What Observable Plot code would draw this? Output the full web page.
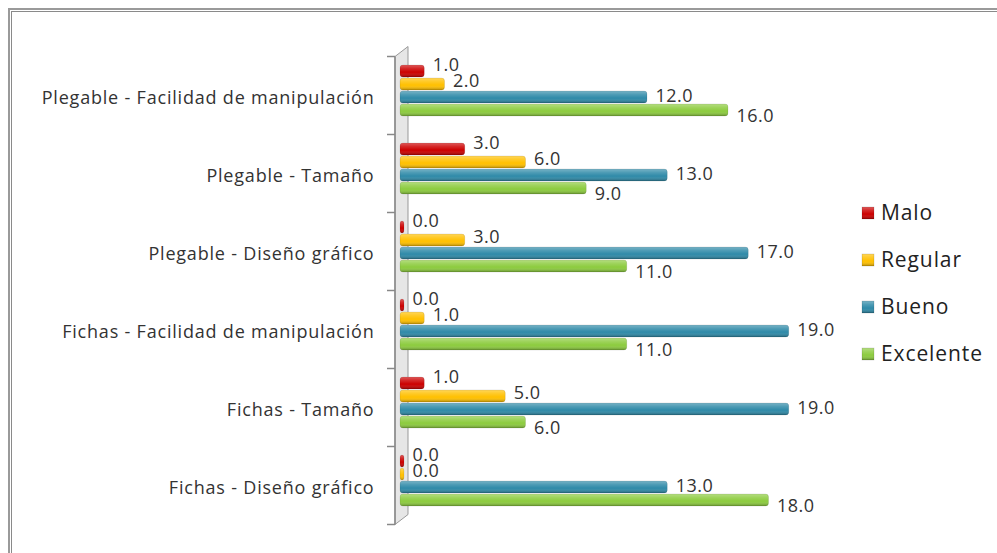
<!DOCTYPE html>
<html><head><meta charset="utf-8">
<script src="https://cdn.jsdelivr.net/npm/d3@7"></script>
<script src="https://cdn.jsdelivr.net/npm/@observablehq/plot@0.6"></script>
<style>
html,body{margin:0;padding:0;background:#fff;overflow:hidden;}
#wrap{position:relative;width:997px;height:553px;overflow:hidden;background:#fff;}
#wrap svg{position:absolute;left:0;top:0;}
.b1{position:absolute;left:8px;top:8px;width:2000px;height:2000px;border-left:2px solid #9a9a9a;border-top:2px solid #9a9a9a;}
.b2{position:absolute;left:11px;top:11px;width:2000px;height:2000px;border-left:1px solid #8a8a8a;border-top:1px solid #8a8a8a;}
</style>
</head><body>
<div id="wrap"><div class="b1"></div><div class="b2"></div></div>
<script>
const categories = ["Plegable - Facilidad de manipulación","Plegable - Tamaño","Plegable - Diseño gráfico","Fichas - Facilidad de manipulación","Fichas - Tamaño","Fichas - Diseño gráfico"];
const series = ["Malo","Regular","Bueno","Excelente"];
const malo = [1,3,0,0,1,0];
const regular = [2,6,3,1,5,0];
const bueno = [12,13,17,19,19,13];
const excelente = [16,9,11,11,6,18];
const colors = ["#CC0000","#FFC000","#2F8AA8","#8CCB3E"];

(function () {
const values = [malo, regular, bueno, excelente];
const data = [];
categories.forEach((c, i) => series.forEach((s, j) => data.push({category: c, series: s, value: values[j][i]})));

const font = "'Open Sans', Lato, sans-serif";
const labelDy = {Malo: -6, Regular: -3, Bueno: -1, Excelente: 6};

const marks = [
  Plot.barX(data, {x1: 0, x2: "value", y: "series", fy: "category", fill: "series", insetLeft: -2, insetRight: -2, rx: 3}),
  Plot.barX(data, {x1: 0, x2: "value", y: "series", fy: "category", fill: "url(#shade)", stroke: "rgba(0,0,0,0.15)", strokeWidth: 0.6, insetLeft: -2, insetRight: -2, rx: 3}),
  Plot.text(categories, {fy: d => d, text: d => d, frameAnchor: "left", textAnchor: "end", dx: -28, dy: 7, fontSize: 18, fill: "#333", className: "cat"})
];
for (const s of series) {
  marks.push(Plot.text(data.filter(d => d.series === s), {x: "value", y: "series", fy: "category", text: d => d.value.toFixed(1), textAnchor: "start", dx: 10, dy: labelDy[s], fontSize: 18, fill: "#333", className: "val"}));
}

const plot = Plot.plot({
  width: 997,
  height: 553,
  marginLeft: 402,
  marginRight: 190,
  marginTop: 62,
  marginBottom: 44,
  style: {fontFamily: font, background: "transparent", overflow: "visible"},
  x: {domain: [0, 20], axis: null},
  y: {domain: series, axis: null, paddingInner: 0.04, paddingOuter: 0},
  fy: {domain: categories, axis: null, padding: 0.29},
  color: {domain: series, range: colors},
  marks
});

const svg = d3.select(plot);
svg.selectAll(".cat text").style("letter-spacing", "0.8px");
svg.selectAll(".val text").style("letter-spacing", "0.5px");
const defs = svg.insert("defs", ":first-child");
const g = defs.append("linearGradient").attr("id", "shade").attr("x1", 0).attr("y1", 0).attr("x2", 0).attr("y2", 1);
g.append("stop").attr("offset", "0%").attr("stop-color", "#fff").attr("stop-opacity", 0.35);
g.append("stop").attr("offset", "30%").attr("stop-color", "#fff").attr("stop-opacity", 0.15);
g.append("stop").attr("offset", "60%").attr("stop-color", "#fff").attr("stop-opacity", 0);
g.append("stop").attr("offset", "100%").attr("stop-color", "#000").attr("stop-opacity", 0.3);

// 3D wall decoration
const xs = plot.scale("x"), fys = plot.scale("fy");
const x0 = xs.apply(0);
const step = fys.step, bw = fys.bandwidth;
const bounds = categories.map(c => fys.apply(c) + bw / 2 - step / 2 + 5);
bounds.push(bounds[bounds.length - 1] + step);
const yTop = bounds[0], yBot = bounds[bounds.length - 1];
const fx = x0 - 7, bx = x0 + 6, depth = 10;
const wall = svg.insert("g", "defs + *");
wall.append("path").attr("d", `M${fx},${yTop}L${bx},${yTop - depth}L${bx},${yBot - depth}L${fx},${yBot}Z`).attr("fill", "#e6e6e6").attr("stroke", "#999");
wall.append("path").attr("d", `M${fx},${yTop}L${fx},${yBot}`).attr("stroke", "#888").attr("stroke-width", 1.5);
for (const b of bounds) wall.append("line").attr("x1", fx - 8).attr("x2", fx).attr("y1", b).attr("y2", b).attr("stroke", "#888").attr("stroke-width", 1.5);

// legend
const lg = svg.append("g").attr("font-family", font).attr("font-size", 21).attr("fill", "#222").attr("text-anchor", "start").style("letter-spacing", "0.9px");
const ly = [213, 260, 307, 354];
series.forEach((s, i) => {
  lg.append("rect").attr("x", 862).attr("y", ly[i] - 6).attr("width", 12).attr("height", 12).attr("fill", colors[i]);
  lg.append("rect").attr("x", 862).attr("y", ly[i] - 6).attr("width", 12).attr("height", 12).attr("fill", "url(#shade)").attr("stroke", "rgba(0,0,0,0.2)").attr("stroke-width", 0.6);
  lg.append("text").attr("x", 881).attr("y", ly[i]).attr("dy", "0.35em").text(s);
});

document.getElementById("wrap").appendChild(plot);
})();
</script>
</body></html>
